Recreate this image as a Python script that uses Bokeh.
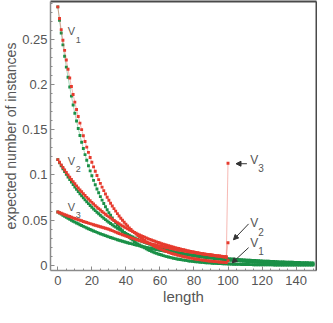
from bokeh.plotting import figure
from bokeh.models import Range1d, FixedTicker, LinearAxis, NumeralTickFormatter, Label, Arrow, NormalHead
from bokeh.embed import file_html
from bokeh.resources import INLINE

# ---------------- data ----------------
LEN_GREEN = list(range(0, 151))   # lengths 0..150
LEN_RED = list(range(0, 101))     # lengths 0..100 (last point = lumped tail)

G1 = [0.2860, 0.2712, 0.2572, 0.2440, 0.2314, 0.2194, 0.2081, 0.1973, 0.1872, 0.1775,
      0.1683, 0.1597, 0.1514, 0.1436, 0.1362, 0.1292, 0.1225, 0.1162, 0.1102, 0.1045,
      0.0991, 0.0940, 0.0891, 0.0845, 0.0802, 0.0760, 0.0721, 0.0684, 0.0648, 0.0615,
      0.0583, 0.0553, 0.0525, 0.0497, 0.0472, 0.0447, 0.0424, 0.0402, 0.0382, 0.0362,
      0.0343, 0.0326, 0.0309, 0.0293, 0.0278, 0.0263, 0.0250, 0.0237, 0.0225, 0.0213,
      0.0202, 0.0192, 0.0182, 0.0172, 0.0164, 0.0155, 0.0147, 0.0139, 0.0132, 0.0125,
      0.0119, 0.0113, 0.0107, 0.0101, 0.0096, 0.0091, 0.0087, 0.0082, 0.0078, 0.0074,
      0.0070, 0.0066, 0.0063, 0.0060, 0.0057, 0.0054, 0.0051, 0.0048, 0.0046, 0.0043,
      0.0041, 0.0039, 0.0037, 0.0035, 0.0033, 0.0032, 0.0030, 0.0028, 0.0027, 0.0026,
      0.0024, 0.0023, 0.0022, 0.0021, 0.0020, 0.0019, 0.0018, 0.0017, 0.0016, 0.0015,
      0.0014, 0.0014, 0.0013, 0.0012, 0.0012, 0.0011, 0.0010, 0.0010, 0.0009, 0.0009,
      0.0008, 0.0008, 0.0008, 0.0007, 0.0007, 0.0006, 0.0006, 0.0006, 0.0005, 0.0005,
      0.0005, 0.0005, 0.0004, 0.0004, 0.0004, 0.0004, 0.0004, 0.0003, 0.0003, 0.0003,
      0.0003, 0.0003, 0.0003, 0.0002, 0.0002, 0.0002, 0.0002, 0.0002, 0.0002, 0.0002,
      0.0002, 0.0002, 0.0002, 0.0001, 0.0001, 0.0001, 0.0001, 0.0001, 0.0001, 0.0001,
      0.0001]

R1 = [0.2860, 0.2731, 0.2609, 0.2491, 0.2379, 0.2272, 0.2170, 0.2073, 0.1979, 0.1890,
      0.1806, 0.1724, 0.1647, 0.1573, 0.1502, 0.1434, 0.1370, 0.1308, 0.1250, 0.1193,
      0.1140, 0.1089, 0.1040, 0.0993, 0.0948, 0.0906, 0.0865, 0.0826, 0.0789, 0.0753,
      0.0720, 0.0687, 0.0656, 0.0627, 0.0599, 0.0572, 0.0546, 0.0521, 0.0498, 0.0476,
      0.0454, 0.0434, 0.0414, 0.0396, 0.0378, 0.0361, 0.0345, 0.0329, 0.0314, 0.0300,
      0.0287, 0.0274, 0.0262, 0.0250, 0.0239, 0.0228, 0.0218, 0.0208, 0.0198, 0.0190,
      0.0181, 0.0173, 0.0165, 0.0158, 0.0151, 0.0144, 0.0137, 0.0131, 0.0125, 0.0120,
      0.0114, 0.0109, 0.0104, 0.0100, 0.0095, 0.0091, 0.0087, 0.0083, 0.0079, 0.0076,
      0.0072, 0.0069, 0.0066, 0.0063, 0.0060, 0.0057, 0.0055, 0.0052, 0.0050, 0.0048,
      0.0046, 0.0043, 0.0042, 0.0040, 0.0038, 0.0036, 0.0035, 0.0033, 0.0032, 0.0030,
      0.0050]

G2 = [0.1170, 0.1135, 0.1102, 0.1069, 0.1038, 0.1007, 0.0977, 0.0948, 0.0920, 0.0893,
      0.0867, 0.0841, 0.0816, 0.0792, 0.0769, 0.0746, 0.0724, 0.0703, 0.0682, 0.0662,
      0.0642, 0.0623, 0.0605, 0.0587, 0.0570, 0.0553, 0.0536, 0.0520, 0.0505, 0.0490,
      0.0476, 0.0462, 0.0448, 0.0435, 0.0422, 0.0409, 0.0397, 0.0386, 0.0374, 0.0363,
      0.0352, 0.0342, 0.0332, 0.0322, 0.0313, 0.0303, 0.0294, 0.0286, 0.0277, 0.0269,
      0.0261, 0.0253, 0.0246, 0.0239, 0.0232, 0.0225, 0.0218, 0.0212, 0.0205, 0.0199,
      0.0193, 0.0188, 0.0182, 0.0177, 0.0172, 0.0166, 0.0162, 0.0157, 0.0152, 0.0148,
      0.0143, 0.0139, 0.0135, 0.0131, 0.0127, 0.0123, 0.0120, 0.0116, 0.0113, 0.0109,
      0.0106, 0.0103, 0.0100, 0.0097, 0.0094, 0.0091, 0.0089, 0.0086, 0.0083, 0.0081,
      0.0079, 0.0076, 0.0074, 0.0072, 0.0070, 0.0068, 0.0066, 0.0064, 0.0062, 0.0060,
      0.0058, 0.0057, 0.0055, 0.0053, 0.0052, 0.0050, 0.0049, 0.0047, 0.0046, 0.0044,
      0.0043, 0.0042, 0.0041, 0.0039, 0.0038, 0.0037, 0.0036, 0.0035, 0.0034, 0.0033,
      0.0032, 0.0031, 0.0030, 0.0029, 0.0028, 0.0028, 0.0027, 0.0026, 0.0025, 0.0024,
      0.0024, 0.0023, 0.0022, 0.0022, 0.0021, 0.0020, 0.0020, 0.0019, 0.0019, 0.0018,
      0.0018, 0.0017, 0.0017, 0.0016, 0.0016, 0.0015, 0.0015, 0.0014, 0.0014, 0.0013,
      0.0013]

R2 = [0.1170, 0.1140, 0.1111, 0.1082, 0.1054, 0.1027, 0.1001, 0.0975, 0.0950, 0.0926,
      0.0902, 0.0879, 0.0856, 0.0834, 0.0813, 0.0792, 0.0772, 0.0752, 0.0733, 0.0714,
      0.0696, 0.0678, 0.0660, 0.0643, 0.0627, 0.0611, 0.0595, 0.0580, 0.0565, 0.0550,
      0.0536, 0.0523, 0.0509, 0.0496, 0.0483, 0.0471, 0.0459, 0.0447, 0.0436, 0.0424,
      0.0414, 0.0403, 0.0393, 0.0383, 0.0373, 0.0363, 0.0354, 0.0345, 0.0336, 0.0327,
      0.0319, 0.0311, 0.0303, 0.0295, 0.0287, 0.0280, 0.0273, 0.0266, 0.0259, 0.0252,
      0.0246, 0.0240, 0.0233, 0.0227, 0.0222, 0.0216, 0.0210, 0.0205, 0.0200, 0.0195,
      0.0190, 0.0185, 0.0180, 0.0175, 0.0171, 0.0166, 0.0162, 0.0158, 0.0154, 0.0150,
      0.0146, 0.0142, 0.0139, 0.0135, 0.0132, 0.0128, 0.0125, 0.0122, 0.0119, 0.0116,
      0.0113, 0.0110, 0.0107, 0.0104, 0.0102, 0.0099, 0.0096, 0.0094, 0.0092, 0.0089,
      0.0250]

G3 = [0.0590, 0.0578, 0.0566, 0.0554, 0.0542, 0.0531, 0.0520, 0.0509, 0.0499, 0.0488,
      0.0478, 0.0468, 0.0459, 0.0449, 0.0440, 0.0431, 0.0422, 0.0413, 0.0404, 0.0396,
      0.0388, 0.0380, 0.0372, 0.0364, 0.0356, 0.0349, 0.0342, 0.0335, 0.0328, 0.0321,
      0.0314, 0.0308, 0.0301, 0.0295, 0.0289, 0.0283, 0.0277, 0.0271, 0.0266, 0.0260,
      0.0255, 0.0249, 0.0244, 0.0239, 0.0234, 0.0229, 0.0225, 0.0220, 0.0215, 0.0211,
      0.0206, 0.0202, 0.0198, 0.0194, 0.0190, 0.0186, 0.0182, 0.0178, 0.0175, 0.0171,
      0.0167, 0.0164, 0.0160, 0.0157, 0.0154, 0.0151, 0.0148, 0.0144, 0.0141, 0.0139,
      0.0136, 0.0133, 0.0130, 0.0127, 0.0125, 0.0122, 0.0120, 0.0117, 0.0115, 0.0112,
      0.0110, 0.0108, 0.0105, 0.0103, 0.0101, 0.0099, 0.0097, 0.0095, 0.0093, 0.0091,
      0.0089, 0.0087, 0.0085, 0.0084, 0.0082, 0.0080, 0.0079, 0.0077, 0.0075, 0.0074,
      0.0072, 0.0071, 0.0069, 0.0068, 0.0066, 0.0065, 0.0064, 0.0062, 0.0061, 0.0060,
      0.0059, 0.0057, 0.0056, 0.0055, 0.0054, 0.0053, 0.0052, 0.0051, 0.0050, 0.0048,
      0.0047, 0.0046, 0.0046, 0.0045, 0.0044, 0.0043, 0.0042, 0.0041, 0.0040, 0.0039,
      0.0038, 0.0038, 0.0037, 0.0036, 0.0035, 0.0035, 0.0034, 0.0033, 0.0033, 0.0032,
      0.0031, 0.0031, 0.0030, 0.0029, 0.0029, 0.0028, 0.0028, 0.0027, 0.0026, 0.0026,
      0.0025]

R3 = [0.0590, 0.0582, 0.0575, 0.0567, 0.0560, 0.0553, 0.0546, 0.0539, 0.0532, 0.0525,
      0.0518, 0.0511, 0.0505, 0.0498, 0.0492, 0.0485, 0.0479, 0.0473, 0.0467, 0.0461,
      0.0455, 0.0449, 0.0443, 0.0438, 0.0432, 0.0426, 0.0421, 0.0415, 0.0410, 0.0405,
      0.0399, 0.0391, 0.0383, 0.0375, 0.0367, 0.0360, 0.0352, 0.0345, 0.0338, 0.0331,
      0.0324, 0.0317, 0.0310, 0.0304, 0.0298, 0.0292, 0.0285, 0.0280, 0.0274, 0.0268,
      0.0262, 0.0257, 0.0252, 0.0246, 0.0241, 0.0236, 0.0231, 0.0227, 0.0222, 0.0217,
      0.0213, 0.0208, 0.0204, 0.0200, 0.0196, 0.0192, 0.0188, 0.0184, 0.0180, 0.0176,
      0.0172, 0.0169, 0.0165, 0.0162, 0.0159, 0.0155, 0.0152, 0.0149, 0.0146, 0.0143,
      0.0140, 0.0137, 0.0134, 0.0131, 0.0129, 0.0126, 0.0123, 0.0121, 0.0118, 0.0116,
      0.0113, 0.0111, 0.0109, 0.0106, 0.0104, 0.0102, 0.0100, 0.0098, 0.0096, 0.0094,
      0.1130]

X_TICKS = [0, 20, 40, 60, 80, 100, 120, 140]
X_MINOR = [0, 5, 10, 15, 20, 25, 30, 35, 40, 45, 50, 55, 60, 65, 70, 75, 80, 85, 90, 95,
           100, 105, 110, 115, 120, 125, 130, 135, 140, 145, 150]
Y_TICKS = [0, 0.05, 0.1, 0.15, 0.2, 0.25]
Y_MINOR = [0, 0.01, 0.02, 0.03, 0.04, 0.05, 0.06, 0.07, 0.08, 0.09, 0.1, 0.11, 0.12, 0.13,
           0.14, 0.15, 0.16, 0.17, 0.18, 0.19, 0.2, 0.21, 0.22, 0.23, 0.24, 0.25, 0.26,
           0.27, 0.28, 0.29]

# ---------------- styling ----------------
RED = "#e63b2e"
GREEN = "#1a9047"
TEXT = "#555555"
FONT = "Liberation Sans"

p = figure(width=317, height=307, x_range=Range1d(-4.3, 152), y_range=Range1d(-0.0058, 0.292),
           output_backend="svg", toolbar_location=None,
           min_border_left=40, min_border_right=1, min_border_top=1, min_border_bottom=36)
p.xgrid.visible = False
p.ygrid.visible = False
p.outline_line_color = None
p.background_fill_color = "white"
p.border_fill_color = "white"

for ax in (p.xaxis[0], p.yaxis[0]):
    ax.axis_line_color = "#8a8a8a"
    ax.axis_line_width = 1.5
    ax.major_tick_line_color = "#8a8a8a"
    ax.minor_tick_line_color = "#8a8a8a"
    ax.major_tick_in = 4
    ax.major_tick_out = 0
    ax.minor_tick_in = 2
    ax.minor_tick_out = 0
    ax.major_label_text_font = FONT
    ax.major_label_text_font_size = "13px"
    ax.major_label_text_color = TEXT
    ax.axis_label_text_font = FONT
    ax.axis_label_text_font_style = "normal"
    ax.axis_label_text_color = TEXT

p.xaxis[0].axis_label_text_font_size = "15px"
p.yaxis[0].axis_label_text_font_size = "14px"
p.xaxis[0].ticker = FixedTicker(ticks=X_TICKS, minor_ticks=X_MINOR)
p.yaxis[0].ticker = FixedTicker(ticks=Y_TICKS, minor_ticks=Y_MINOR)
p.yaxis[0].formatter = NumeralTickFormatter(format="0.[00]")
p.xaxis[0].axis_label = "length"
p.yaxis[0].axis_label = "expected number of instances"
p.xaxis[0].major_label_standoff = 5
p.yaxis[0].major_label_standoff = 3
p.xaxis[0].axis_label_standoff = 0
p.yaxis[0].axis_label_standoff = 0

# dark top / right border
for side in ("above", "right"):
    b = LinearAxis(ticker=FixedTicker(ticks=[]), axis_line_color="#4a4a4a", axis_line_width=2,
                   major_tick_line_color=None, minor_tick_line_color=None,
                   major_tick_in=0, major_tick_out=0, minor_tick_in=0, minor_tick_out=0,
                   major_label_standoff=0, axis_label_standoff=0)
    p.add_layout(b, side)

series = [
    (LEN_GREEN, G1, GREEN), (LEN_GREEN, G2, GREEN), (LEN_GREEN, G3, GREEN),
    (LEN_RED, R1, RED), (LEN_RED, R2, RED), (LEN_RED, R3, RED),
]
for xs, ys, c in series:
    p.line(xs, ys, line_color=c, line_width=0.8, line_alpha=0.45)
    p.scatter(xs, ys, marker="square", size=2.9, fill_color=c, line_color=None)

# ---------------- annotations ----------------
def vlabel(x, y, sx, sy, sub, big, small):
    p.add_layout(Label(x=x, y=y, text="V", text_font=FONT, text_font_size=big, text_color=TEXT))
    p.add_layout(Label(x=sx, y=sy, text=sub, text_font=FONT, text_font_size=small, text_color=TEXT))

vlabel(5.9, 0.2528, 10.6, 0.2458, "1", "11px", "9px")
vlabel(5.9, 0.1089, 10.6, 0.1035, "2", "11px", "9px")
vlabel(5.9, 0.0581, 10.6, 0.0526, "3", "11px", "9px")
vlabel(113.0, 0.1086, 117.8, 0.1030, "3", "12px", "10px")
vlabel(113.0, 0.0387, 117.8, 0.0328, "2", "12px", "10px")
vlabel(113.0, 0.0166, 117.8, 0.0118, "1", "12px", "10px")

for (x0, y0, x1, y1) in [(111.1, 0.1124, 104.7, 0.1124),
                         (112.1, 0.0458, 103.2, 0.0282),
                         (112.1, 0.0195, 102.4, 0.0026)]:
    p.add_layout(Arrow(x_start=x0, y_start=y0, x_end=x1, y_end=y1, line_color="#333333",
                       line_width=1,
                       end=NormalHead(size=5, fill_color="#333333", line_color="#333333")))

open("out.html", "w").write(file_html(p, INLINE))
